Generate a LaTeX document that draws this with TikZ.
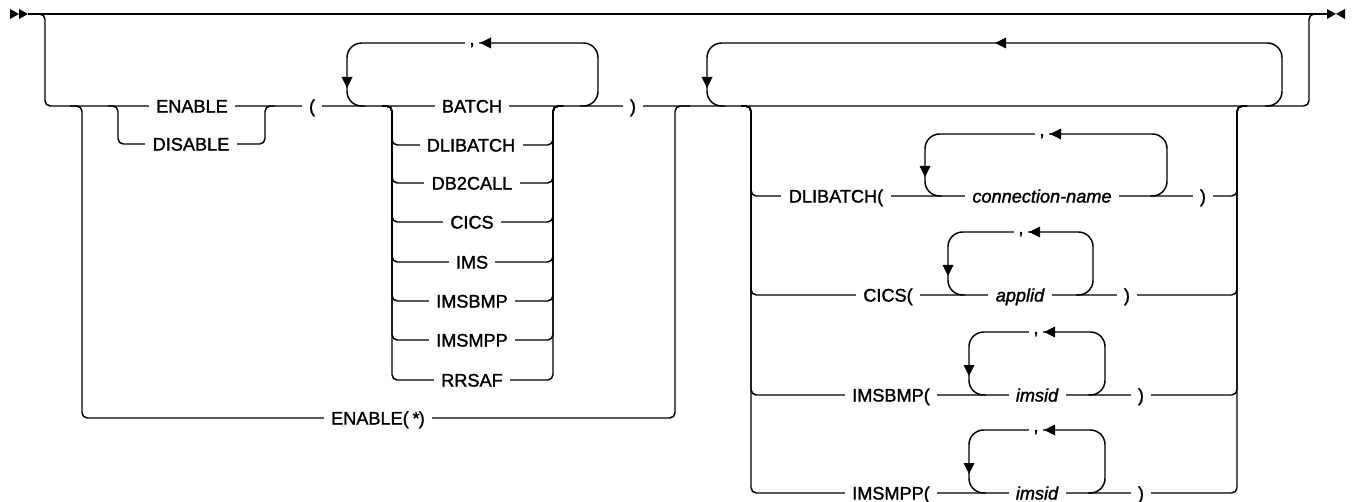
\documentclass[tikz,border=0pt]{standalone}
\usepackage{fontspec}
\setmainfont{Liberation Sans}
\newfontfamily\kwfont{Liberation Sans}[FakeBold=1.5]
\newfontfamily\kwifont{Liberation Sans Italic}[FakeBold=1.5]
\newcommand\rrL[1]{\fill (#1) -- ++(11,-5.5) -- ++(0,11) -- cycle;}
\newcommand\rrD[1]{\fill (#1) -- ++(-5.5,-11) -- ++(11,0) -- cycle;}
\tikzset{
  rail/.style={line width=1.1pt, rounded corners=4pt},
  railloop/.style={line width=1.1pt, rounded corners=11pt},
  lab/.style={fill=white, inner xsep=5.5pt, inner ysep=1pt, text height=9.8pt, text depth=0pt,
              font=\fontsize{13.6}{15}\kwfont},
  ilab/.style={lab, font=\fontsize{13.6}{15}\kwifont},
  sep/.style={lab, inner xsep=3pt, text height=3pt},
}
\begin{document}
\begin{tikzpicture}[x=0.75pt,y=-0.75pt]
\useasboundingbox (0,0) rectangle (1353,502);
% ---------------- lines ----------------
% top bypass and main row
\draw[line width=1.1pt] (28,14) -- (1327,14);
\draw[rail] (30,14) -- (45,14) -- (45,106) -- (1309,106) -- (1309,14) -- (1322,14);
% ENABLE(*) branch
\draw[rail] (70,106) -- (82,106) -- (82,418) -- (675,418) -- (675,106) -- (690,106);
% DISABLE branch
\draw[rail] (108,106) -- (118,106) -- (118,144) -- (265,144) -- (265,106) -- (275,106);
% repeat loop 1
\draw[railloop] (365,106) -- (347,106) -- (347,43) -- (598,43) -- (598,106) -- (580,106);
% option column 1
\foreach \yy in {145,183,222,262,301,340,380}{
  \draw[rail] (382,106) -- (392,106) -- (392,\yy) -- (553,\yy) -- (553,106) -- (563,106);
}
% big repeat loop
\draw[railloop] (725,106) -- (707,106) -- (707,43) -- (1282,43) -- (1282,106) -- (1265,106);
% option column 2
\foreach \yy in {196,295,395,493}{
  \draw[rail] (741,106) -- (751,106) -- (751,\yy) -- (1237,\yy) -- (1237,106) -- (1247,106);
}
% inner loops
\draw[railloop] (942,196) -- (925,196) -- (925,134) -- (1167,134) -- (1167,196) -- (1150,196);
\draw[railloop] (965,295) -- (948,295) -- (948,232) -- (1093,232) -- (1093,295) -- (1076,295);
\draw[railloop] (986,395) -- (969,395) -- (969,332) -- (1105,332) -- (1105,395) -- (1088,395);
\draw[railloop] (986,493) -- (969,493) -- (969,430) -- (1105,430) -- (1105,493) -- (1088,493);
% ---------------- labels ----------------
\node[lab] (enable)  at (192,106) {ENABLE};
\node[lab] (disable) at (191,144) {DISABLE};
\node[lab] (lpar)    at (312,106) {(};
\node[sep] (sepa)    at (472,43)  {,};
\node[lab] (batch)   at (472,106) {BATCH};
\node[lab] (dlib)    at (471,145) {DLIBATCH};
\node[lab] (db2)     at (472,183) {DB2CALL};
\node[lab] (cics)    at (472,222) {CICS};
\node[lab] (ims)     at (472,262) {IMS};
\node[lab] (imsbmp)  at (472,301) {IMSBMP};
\node[lab] (imsmpp)  at (472,340) {IMSMPP};
\node[lab] (rrsaf)   at (472,380) {RRSAF};
\node[lab] (rpar)    at (633,106) {)};
\node[lab] (enstar)  at (378,418) {ENABLE(\,{\kwifont *})};
% option column 2 labels
\node[lab]  (odlib)  at (836,196)  {DLIBATCH(};
\node[ilab] (conn)   at (1042,196) {connection-name};
\node[sep]  (sepb)   at (1042,134) {,};
\node[lab]  (rpb)    at (1203,196) {)};
\node[lab]  (ocics)  at (888,295)  {CICS(};
\node[ilab] (appl)   at (1020,295) {applid};
\node[sep]  (sepc)   at (1021,232) {,};
\node[lab]  (rpc)    at (1127,295) {)};
\node[lab]  (obmp)   at (891,395)  {IMSBMP(};
\node[ilab] (imsa)   at (1037,395) {imsid};
\node[sep]  (sepd)   at (1036,332) {,};
\node[lab]  (rpd)    at (1141,395) {)};
\node[lab]  (ompp)   at (891,493)  {IMSMPP(};
\node[ilab] (imsb)   at (1037,493) {imsid};
\node[sep]  (sepe)   at (1036,430) {,};
\node[lab]  (rpe)    at (1141,493) {)};
% ---------------- arrowheads ----------------
\fill (10,9) -- (19,14) -- (10,19) -- cycle;
\fill (19,9) -- (28,14) -- (19,19) -- cycle;
\fill (1327,9) -- (1336,14) -- (1327,19) -- cycle;
\fill (1345,9) -- (1336,14) -- (1345,19) -- cycle;
\rrL{480,43}
\rrD{347,88}
\rrL{995,43}
\rrD{707,88}
\rrL{1050,134}
\rrD{925,177}
\rrL{1029,232}
\rrD{948,276}
\rrL{1044,332}
\rrD{969,376}
\rrL{1044,430}
\rrD{969,474}
\end{tikzpicture}
\end{document}
